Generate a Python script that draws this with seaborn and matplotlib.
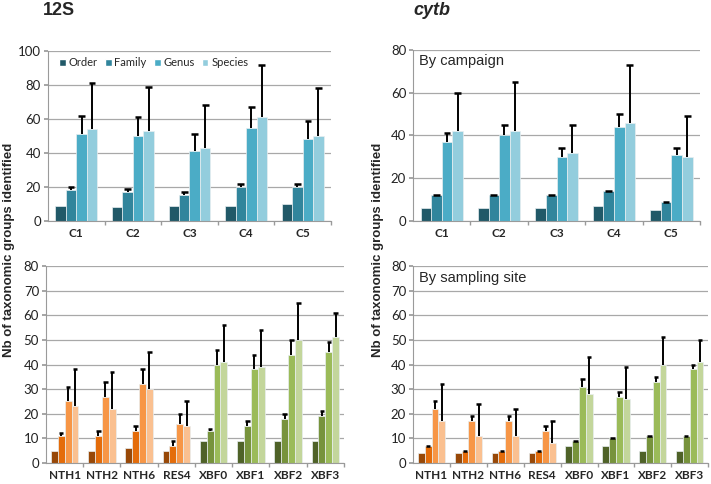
import numpy as np
import pandas as pd
import matplotlib
matplotlib.use('Agg')
import matplotlib.pyplot as plt
import seaborn as sns

sns.set_theme(style="white")
plt.rcParams['font.family'] = ['Lato', 'DejaVu Sans']

# ---- data -------------------------------------------------------------
levels = ['Order', 'Family', 'Genus', 'Species']
campaigns = ['C1', 'C2', 'C3', 'C4', 'C5']
sites = ['NTH1', 'NTH2', 'NTH6', 'RES4', 'XBF0', 'XBF1', 'XBF2', 'XBF3']

# 12S by campaign (mean, upper end of error bar)
s12_camp_order = [9, 8, 9, 9, 10]
s12_camp_family = [18, 17, 15, 20, 20]
s12_camp_genus = [51, 50, 41, 55, 48]
s12_camp_species = [54, 53, 43, 61, 50]
s12_camp_family_up = [20, 19, 17, 22, 22]
s12_camp_genus_up = [62, 61, 51, 67, 59]
s12_camp_species_up = [81, 79, 68, 92, 78]

# cytb by campaign
cyt_camp_order = [6, 6, 6, 7, 5]
cyt_camp_family = [12, 12, 12, 14, 9]
cyt_camp_genus = [37, 40, 30, 44, 31]
cyt_camp_species = [42, 42, 32, 46, 30]
cyt_camp_family_up = [12, 12, 12, 14, 9]
cyt_camp_genus_up = [41, 45, 34, 50, 34]
cyt_camp_species_up = [60, 65, 45, 73, 49]

# 12S by sampling site
s12_site_order = [5, 5, 6, 5, 9, 9, 9, 9]
s12_site_family = [11, 11, 13, 7, 13, 15, 18, 19]
s12_site_genus = [25, 27, 32, 16, 40, 38, 44, 45]
s12_site_species = [23, 22, 30, 15, 41, 39, 50, 51]
s12_site_family_up = [12, 13, 15, 9, 14, 17, 20, 21]
s12_site_genus_up = [31, 33, 38, 20, 46, 44, 50, 49]
s12_site_species_up = [38, 37, 45, 25, 56, 54, 65, 61]

# cytb by sampling site
cyt_site_order = [4, 4, 4, 4, 7, 7, 5, 5]
cyt_site_family = [7, 5, 5, 5, 9, 10, 11, 11]
cyt_site_genus = [22, 17, 17, 13, 31, 27, 33, 38]
cyt_site_species = [17, 11, 11, 8, 28, 26, 40, 41]
cyt_site_family_up = [7, 5, 5, 5, 9, 10, 11, 11]
cyt_site_genus_up = [25, 19, 19, 15, 34, 29, 35, 40]
cyt_site_species_up = [32, 24, 22, 17, 43, 39, 51, 50]

blues = ['#215968', '#31859c', '#4bacc6', '#93cddd']
oranges = ['#984807', '#e46c0a', '#f79646', '#fac090']
greens = ['#4f6228', '#77933c', '#9bbb59', '#c3d69b']


def long_df(cats, order, family, genus, species):
    rows = []
    for lev, vals in zip(levels, [order, family, genus, species]):
        for c, v in zip(cats, vals):
            rows.append({'group': c, 'level': lev, 'value': v})
    return pd.DataFrame(rows)


def panel(ax, cats, vals, ups, palette, ymax, ystep, site_colors=False):
    df = long_df(cats, *vals)
    sns.barplot(data=df, x='group', y='value', hue='level', order=cats,
                hue_order=levels, palette=palette, width=0.74, ax=ax,
                saturation=1, edgecolor='#e8eef0', linewidth=0.5,
                legend=False)
    bar_conts = list(ax.containers)
    # recolour site panels: NTH/RES in orange, XBF in green
    for li, cont in enumerate(bar_conts):
        for gi, bar in enumerate(cont):
            if site_colors:
                pal = greens if cats[gi].startswith('XBF') else oranges
                bar.set_facecolor(pal[li])
        if li == 0:
            continue
        # upper-only error bars with a single cap
        xs = np.array([b.get_x() + b.get_width() / 2 for b in cont])
        w = cont[0].get_width()
        hs = np.array([b.get_height() for b in cont])
        tops = np.array(ups[li - 1])
        ax.vlines(xs, hs, tops, color='black', linewidth=1.4, zorder=3)
        ax.hlines(tops, xs - w * 0.32, xs + w * 0.32, color='black',
                  linewidth=1.8, zorder=3)
    ax.set_ylim(0, ymax)
    ax.set_yticks(np.arange(0, ymax + 1, ystep))
    ax.set_xlim(-0.5, len(cats) - 0.5)
    ax.set_xticks(np.arange(len(cats)) + 0.5, minor=True)
    ax.yaxis.grid(True, color='#a8a8a8', linewidth=0.9)
    ax.set_axisbelow(True)
    for s in ['top', 'right']:
        ax.spines[s].set_visible(False)
    for s in ['left', 'bottom']:
        ax.spines[s].set_color('#9a9a9a')
        ax.spines[s].set_linewidth(0.8)
    ax.tick_params(axis='y', labelsize=9.5, colors='#222222', length=3,
                   left=True, color='#9a9a9a', pad=2)
    ax.tick_params(axis='x', which='major', length=0, labelsize=8.5, pad=5)
    ax.tick_params(axis='x', which='minor', length=3, bottom=True,
                   color='#9a9a9a')
    for t in ax.get_xticklabels():
        t.set_fontweight('bold')
    ax.set_xlabel('')
    ax.set_ylabel('')


fig = plt.figure(figsize=(7.11, 4.84), dpi=100)
ax1 = fig.add_axes([0.0675, 0.5434, 0.398, 0.3512])
ax2 = fig.add_axes([0.581, 0.5434, 0.4035, 0.3533])
ax3 = fig.add_axes([0.0647, 0.0434, 0.419, 0.407])
ax4 = fig.add_axes([0.581, 0.0434, 0.415, 0.407])

panel(ax1, campaigns,
      [s12_camp_order, s12_camp_family, s12_camp_genus, s12_camp_species],
      [s12_camp_family_up, s12_camp_genus_up, s12_camp_species_up],
      blues, 100, 20)
panel(ax2, campaigns,
      [cyt_camp_order, cyt_camp_family, cyt_camp_genus, cyt_camp_species],
      [cyt_camp_family_up, cyt_camp_genus_up, cyt_camp_species_up],
      blues, 80, 20)
panel(ax3, sites,
      [s12_site_order, s12_site_family, s12_site_genus, s12_site_species],
      [s12_site_family_up, s12_site_genus_up, s12_site_species_up],
      oranges, 80, 10, site_colors=True)
panel(ax4, sites,
      [cyt_site_order, cyt_site_family, cyt_site_genus, cyt_site_species],
      [cyt_site_family_up, cyt_site_genus_up, cyt_site_species_up],
      oranges, 80, 10, site_colors=True)

# legend in the 12S campaign panel
handles = [plt.Rectangle((0, 0), 1, 1, facecolor=c, edgecolor='white')
           for c in blues]
ax1.legend(handles, levels, loc='upper left', bbox_to_anchor=(0.04, 0.965),
           ncol=4, frameon=False, fontsize=8, handlelength=0.6,
           handleheight=0.6, handletextpad=0.25, columnspacing=0.65,
           borderaxespad=0, borderpad=0)

ax2.text(0.02, 0.975, 'By campaign', transform=ax2.transAxes, ha='left',
         va='top', fontsize=10.5, family=['Liberation Sans'])
ax4.text(0.02, 0.975, 'By sampling site', transform=ax4.transAxes,
         ha='left', va='top', fontsize=10.5, family=['Liberation Sans'])

fig.text(0.06, 0.979, '12S', ha='left', va='center', fontsize=13,
         fontweight='bold', family=['Liberation Sans'])
fig.text(0.582, 0.979, 'cytb', ha='left', va='center', fontsize=13,
         fontweight='bold', fontstyle='italic', family=['Liberation Sans'])

ylab = 'Nb of taxonomic groups identified'
fig.text(0.013, 0.483, ylab, rotation=90, ha='center', va='center',
         fontsize=9.5, fontweight='bold', family=['Liberation Sans'])
fig.text(0.532, 0.483, ylab, rotation=90, ha='center', va='center',
         fontsize=9.5, fontweight='bold', family=['Liberation Sans'])

fig.savefig('out.png', dpi=100)
